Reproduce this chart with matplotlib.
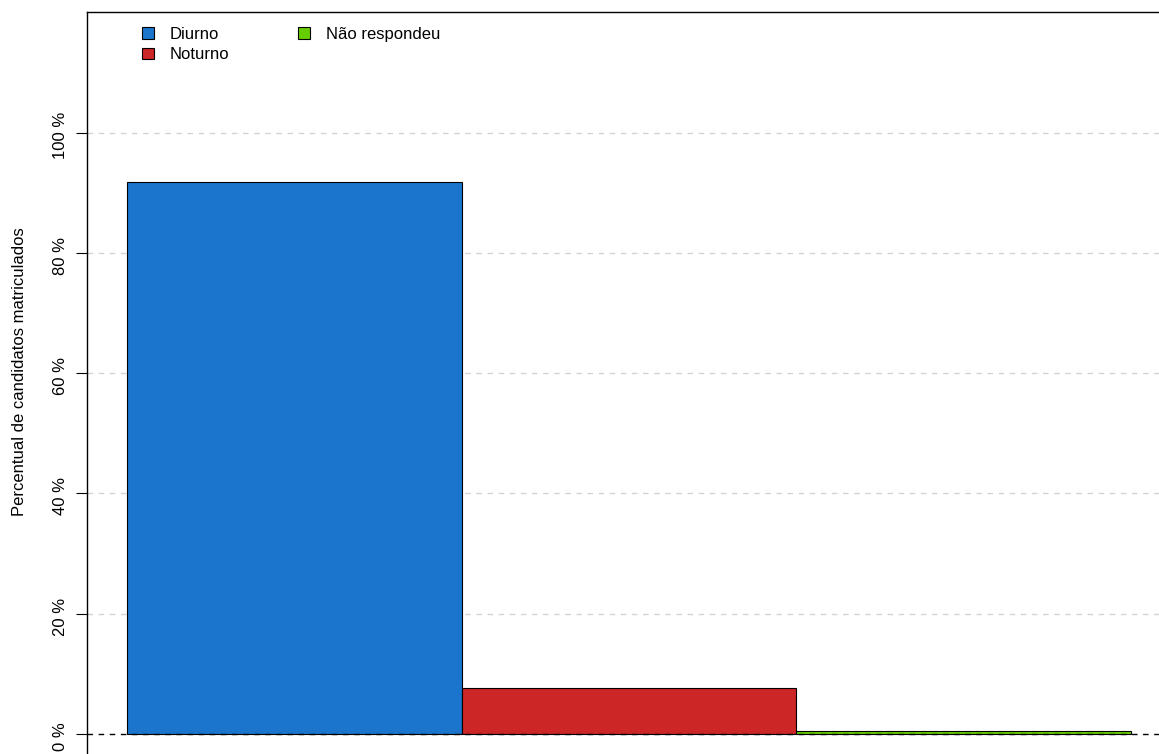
import matplotlib.pyplot as plt
import matplotlib.transforms as mtransforms
from matplotlib.patches import Patch

plt.rcParams['font.family'] = ['Liberation Sans', 'DejaVu Sans']

# data (percent of enrolled candidates)
categorias = ["Diurno", "Noturno", "Não respondeu"]
percentuais = [91.8, 7.7, 0.5]
cores = ["#1c75cd", "#cd2626", "#66cd00"]

fig = plt.figure(figsize=(11.59, 7.54), dpi=100)
# axes box runs past the right and bottom edges, like the cropped original
ax = fig.add_axes([87 / 1159, -0.0115, 0.9353, 0.9956])

# gridlines first so bars sit on top
for y in [20, 40, 60, 80, 100]:
    ax.axhline(y, color="#d3d3d3", lw=1, ls=(0, (4, 4)), zorder=0)

ax.bar(range(len(percentuais)), percentuais, width=1, align="edge",
       color=cores, edgecolor="black", linewidth=0.8, zorder=2)
ax.axhline(0, color="black", lw=1, ls=(0, (4, 4)), zorder=3)

ax.set_xlim(-0.12, 3.12)
ax.set_ylim(-4.8, 120.1)
ax.set_xticks([])
ax.set_yticks([0, 20, 40, 60, 80, 100])
ax.set_yticklabels([f"{v} %" for v in [0, 20, 40, 60, 80, 100]],
                   rotation=90, va="center", fontsize=12)
ax.tick_params(axis="y", length=8, width=0.8, pad=6)
# nudge rotated tick labels down a few pixels
shift = mtransforms.ScaledTranslation(0, -3 / 100, fig.dpi_scale_trans)
for lab in ax.get_yticklabels():
    lab.set_transform(lab.get_transform() + shift)
ax.set_ylabel("Percentual de candidatos matriculados", fontsize=12)
ax.yaxis.set_label_coords(-0.0556, 0.5205)
for s in ax.spines.values():
    s.set_linewidth(1)

handles = [Patch(facecolor=c, edgecolor="black", linewidth=0.8) for c in cores]
ax.legend(handles, categorias, ncol=2, loc="upper left",
          bbox_to_anchor=(0.0507, 0.980), frameon=False, fontsize=12,
          borderpad=0, borderaxespad=0,
          handlelength=0.72, handleheight=0.72, handletextpad=0.96,
          columnspacing=4.1, labelspacing=0.32)

fig.savefig("out.png", dpi=100)
